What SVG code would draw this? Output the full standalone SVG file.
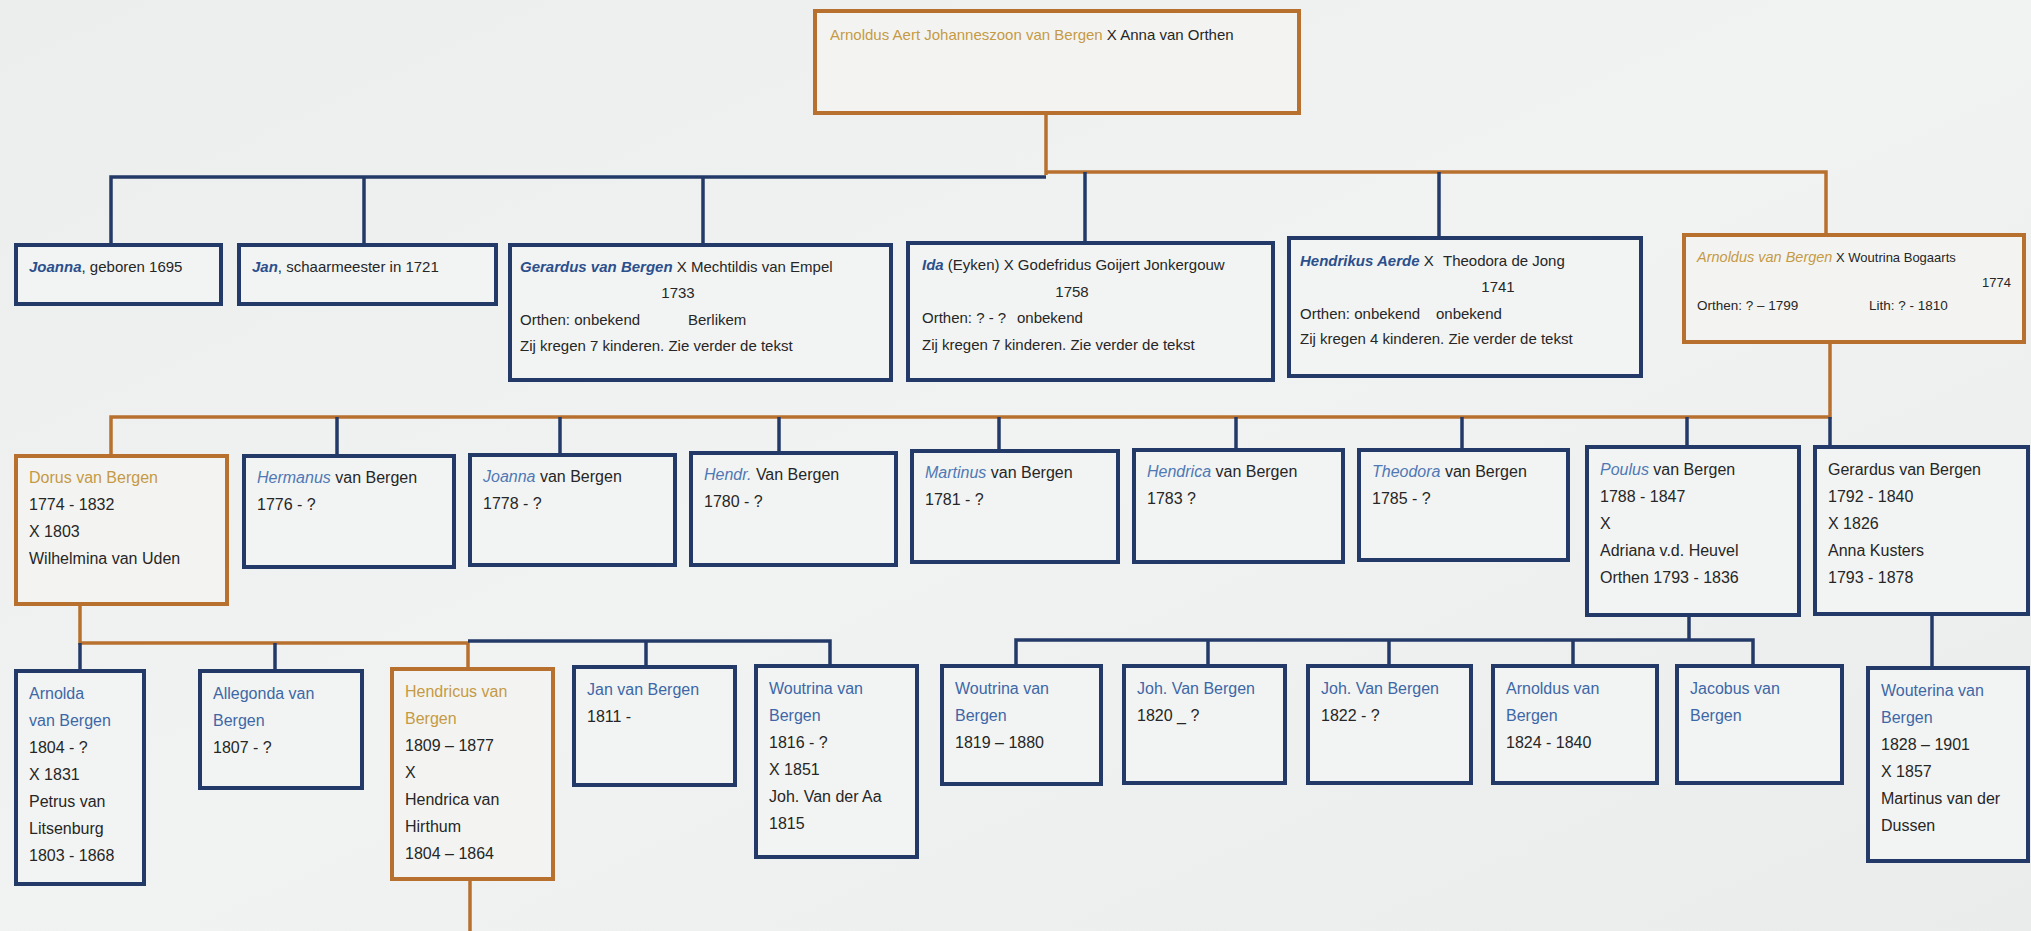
<svg xmlns="http://www.w3.org/2000/svg" width="2031" height="931" viewBox="0 0 2031 931">
<defs>
<linearGradient id="bg" x1="0" y1="0" x2="1" y2="1">
<stop offset="0" stop-color="#eceeed"/>
<stop offset="0.5" stop-color="#f1f3f2"/>
<stop offset="1" stop-color="#eaecec"/>
</linearGradient>
</defs>
<style>
.box{fill:#f2f4f3;stroke:#233a68;stroke-width:4}
.obox{fill:#f3f4f2;stroke:#b8702f;stroke-width:4}
.ln{fill:none;stroke:#233a68;stroke-width:3.5}
.oln{fill:none;stroke:#b8702f;stroke-width:3.5}
text{font-family:"Liberation Sans",Arial,sans-serif;font-size:16px;fill:#262626}
.s1{font-size:15px}
.bi{fill:#2c4f8c;font-style:italic;font-weight:bold}
.li{fill:#4f78b4;font-style:italic}
.bl{fill:#3d67a6}
.or{fill:#c59a45}
.oi{fill:#c59a45;font-style:italic}
.mid{text-anchor:middle}
.end{text-anchor:end}
</style>
<rect x="0" y="0" width="2031" height="931" fill="url(#bg)"/>

<g id="connectors">
<path class="oln" d="M1046 113 V175"/>
<path class="ln" d="M111 245 V177 H1046"/>
<path class="ln" d="M364 177 V245"/>
<path class="ln" d="M703 177 V245"/>
<path class="oln" d="M1046 172 H1826 V235"/>
<path class="ln" d="M1085 172 V243"/>
<path class="ln" d="M1439 172 V238"/>
<path class="oln" d="M1830 342 V417 H111 V456"/>
<path class="ln" d="M1830 417 V447"/>
<path class="ln" d="M337 417 V456"/>
<path class="ln" d="M560 417 V455"/>
<path class="ln" d="M779 417 V453"/>
<path class="ln" d="M999 417 V451"/>
<path class="ln" d="M1236 417 V450"/>
<path class="ln" d="M1462 417 V450"/>
<path class="ln" d="M1687 417 V447"/>
<path class="oln" d="M80 604 V643 H468 V669"/>
<path class="ln" d="M80 643 V671"/>
<path class="ln" d="M275 643 V671"/>
<path class="ln" d="M468 641 H830 V666"/>
<path class="ln" d="M646 641 V667"/>
<path class="oln" d="M470 879 V931"/>
<path class="ln" d="M1689 615 V640"/>
<path class="ln" d="M1016 666 V640 H1753 V666"/>
<path class="ln" d="M1208 640 V666"/>
<path class="ln" d="M1389 640 V666"/>
<path class="ln" d="M1573 640 V666"/>
<path class="ln" d="M1932 614 V668"/>
</g>

<g id="n-root">
<rect class="obox" x="815" y="11" width="484" height="102"/>
<text class="s1" x="830" y="40"><tspan class="or">Arnoldus Aert Johanneszoon van Bergen</tspan> X Anna van Orthen</text>
</g>

<g id="n-joanna1695">
<rect class="box" x="16" y="245" width="205" height="59"/>
<text class="s1" x="29" y="272"><tspan class="bi">Joanna</tspan>, geboren 1695</text>
</g>
<g id="n-jan1721">
<rect class="box" x="239" y="245" width="257" height="59"/>
<text class="s1" x="252" y="272"><tspan class="bi">Jan</tspan>, schaarmeester in 1721</text>
</g>
<g id="n-gerardus1733">
<rect class="box" x="510" y="245" width="381" height="135"/>
<text class="s1" x="520" y="272"><tspan class="bi">Gerardus van Bergen</tspan> X Mechtildis van Empel</text>
<text class="s1 mid" x="678" y="298">1733</text>
<text class="s1" x="520" y="325">Orthen: onbekend<tspan x="688">Berlikem</tspan></text>
<text class="s1" x="520" y="351">Zij kregen 7 kinderen. Zie verder de tekst</text>
</g>
<g id="n-ida1758">
<rect class="box" x="908" y="243" width="365" height="137"/>
<text class="s1" x="922" y="270"><tspan class="bi">Ida</tspan> (Eyken) X Godefridus Goijert Jonkergouw</text>
<text class="s1 mid" x="1072" y="297">1758</text>
<text class="s1" x="922" y="323">Orthen: ? - ?<tspan x="1017">onbekend</tspan></text>
<text class="s1" x="922" y="350">Zij kregen 7 kinderen. Zie verder de tekst</text>
</g>
<g id="n-hendrikus1741">
<rect class="box" x="1289" y="238" width="352" height="138"/>
<text class="s1" x="1300" y="266"><tspan class="bi">Hendrikus Aerde</tspan> X<tspan x="1443">Theodora de Jong</tspan></text>
<text class="s1 mid" x="1498" y="292">1741</text>
<text class="s1" x="1300" y="319">Orthen: onbekend<tspan x="1436">onbekend</tspan></text>
<text class="s1" x="1300" y="344">Zij kregen 4 kinderen. Zie verder de tekst</text>
</g>
<g id="n-arnoldus1774">
<rect class="obox" x="1684" y="235" width="340" height="107"/>
<text x="1697" y="262" style="font-size:14.5px"><tspan class="oi">Arnoldus van Bergen</tspan><tspan style="font-size:13px"> X Woutrina Bogaarts</tspan></text>
<text class="end" x="2011" y="287" style="font-size:13px">1774</text>
<text x="1697" y="310" style="font-size:13.5px">Orthen: ? – 1799<tspan x="1869">Lith: ? - 1810</tspan></text>
</g>

<g id="n-dorus">
<rect class="obox" x="16" y="456" width="211" height="148"/>
<text x="29" y="483"><tspan class="or">Dorus van Bergen</tspan><tspan x="29" dy="27">1774 - 1832</tspan><tspan x="29" dy="27">X 1803</tspan><tspan x="29" dy="27">Wilhelmina van Uden</tspan></text>
</g>
<g id="n-hermanus">
<rect class="box" x="244" y="456" width="210" height="111"/>
<text x="257" y="483"><tspan class="li">Hermanus</tspan> van Bergen<tspan x="257" dy="27">1776 - ?</tspan></text>
</g>
<g id="n-joanna1778">
<rect class="box" x="470" y="455" width="205" height="110"/>
<text x="483" y="482"><tspan class="li">Joanna</tspan> van Bergen<tspan x="483" dy="27">1778 - ?</tspan></text>
</g>
<g id="n-hendr1780">
<rect class="box" x="691" y="453" width="205" height="112"/>
<text x="704" y="480"><tspan class="li">Hendr.</tspan> Van Bergen<tspan x="704" dy="27">1780 - ?</tspan></text>
</g>
<g id="n-martinus1781">
<rect class="box" x="912" y="451" width="206" height="111"/>
<text x="925" y="478"><tspan class="li">Martinus</tspan> van Bergen<tspan x="925" dy="27">1781 - ?</tspan></text>
</g>
<g id="n-hendrica1783">
<rect class="box" x="1134" y="450" width="209" height="112"/>
<text x="1147" y="477"><tspan class="li">Hendrica</tspan> van Bergen<tspan x="1147" dy="27">1783 ?</tspan></text>
</g>
<g id="n-theodora1785">
<rect class="box" x="1359" y="450" width="209" height="110"/>
<text x="1372" y="477"><tspan class="li">Theodora</tspan> van Bergen<tspan x="1372" dy="27">1785 - ?</tspan></text>
</g>
<g id="n-poulus">
<rect class="box" x="1587" y="447" width="212" height="168"/>
<text x="1600" y="475"><tspan class="li">Poulus</tspan> van Bergen<tspan x="1600" dy="27">1788 - 1847</tspan><tspan x="1600" dy="27">X</tspan><tspan x="1600" dy="27">Adriana v.d. Heuvel</tspan><tspan x="1600" dy="27">Orthen 1793 - 1836</tspan></text>
</g>
<g id="n-gerardus1792">
<rect class="box" x="1815" y="447" width="213" height="167"/>
<text x="1828" y="475">Gerardus van Bergen<tspan x="1828" dy="27">1792 - 1840</tspan><tspan x="1828" dy="27">X 1826</tspan><tspan x="1828" dy="27">Anna Kusters</tspan><tspan x="1828" dy="27">1793 - 1878</tspan></text>
</g>

<g id="n-arnolda">
<rect class="box" x="16" y="671" width="128" height="213"/>
<text x="29" y="699"><tspan class="bl">Arnolda</tspan><tspan class="bl" x="29" dy="27">van Bergen</tspan><tspan x="29" dy="27">1804 - ?</tspan><tspan x="29" dy="27">X 1831</tspan><tspan x="29" dy="27">Petrus van</tspan><tspan x="29" dy="27">Litsenburg</tspan><tspan x="29" dy="27">1803 - 1868</tspan></text>
</g>
<g id="n-allegonda">
<rect class="box" x="200" y="671" width="162" height="117"/>
<text x="213" y="699"><tspan class="bl">Allegonda van</tspan><tspan class="bl" x="213" dy="27">Bergen</tspan><tspan x="213" dy="27">1807 - ?</tspan></text>
</g>
<g id="n-hendricus">
<rect class="obox" x="392" y="669" width="161" height="210"/>
<text x="405" y="697"><tspan class="or">Hendricus van</tspan><tspan class="or" x="405" dy="27">Bergen</tspan><tspan x="405" dy="27">1809 – 1877</tspan><tspan x="405" dy="27">X</tspan><tspan x="405" dy="27">Hendrica van</tspan><tspan x="405" dy="27">Hirthum</tspan><tspan x="405" dy="27">1804 – 1864</tspan></text>
</g>
<g id="n-jan1811">
<rect class="box" x="574" y="667" width="161" height="118"/>
<text x="587" y="695"><tspan class="bl">Jan van Bergen</tspan><tspan x="587" dy="27">1811 -</tspan></text>
</g>
<g id="n-woutrina1816">
<rect class="box" x="756" y="666" width="161" height="191"/>
<text x="769" y="694"><tspan class="bl">Woutrina van</tspan><tspan class="bl" x="769" dy="27">Bergen</tspan><tspan x="769" dy="27">1816 - ?</tspan><tspan x="769" dy="27">X 1851</tspan><tspan x="769" dy="27">Joh. Van der Aa</tspan><tspan x="769" dy="27">1815</tspan></text>
</g>
<g id="n-woutrina1819">
<rect class="box" x="942" y="666" width="159" height="118"/>
<text x="955" y="694"><tspan class="bl">Woutrina van</tspan><tspan class="bl" x="955" dy="27">Bergen</tspan><tspan x="955" dy="27">1819 – 1880</tspan></text>
</g>
<g id="n-joh1820">
<rect class="box" x="1124" y="666" width="161" height="117"/>
<text x="1137" y="694"><tspan class="bl">Joh. Van Bergen</tspan><tspan x="1137" dy="27">1820 _ ?</tspan></text>
</g>
<g id="n-joh1822">
<rect class="box" x="1308" y="666" width="163" height="117"/>
<text x="1321" y="694"><tspan class="bl">Joh. Van Bergen</tspan><tspan x="1321" dy="27">1822 - ?</tspan></text>
</g>
<g id="n-arnoldus1824">
<rect class="box" x="1493" y="666" width="164" height="117"/>
<text x="1506" y="694"><tspan class="bl">Arnoldus van</tspan><tspan class="bl" x="1506" dy="27">Bergen</tspan><tspan x="1506" dy="27">1824 - 1840</tspan></text>
</g>
<g id="n-jacobus">
<rect class="box" x="1677" y="666" width="165" height="117"/>
<text x="1690" y="694"><tspan class="bl">Jacobus van</tspan><tspan class="bl" x="1690" dy="27">Bergen</tspan></text>
</g>
<g id="n-wouterina">
<rect class="box" x="1868" y="668" width="160" height="193"/>
<text x="1881" y="696"><tspan class="bl">Wouterina van</tspan><tspan class="bl" x="1881" dy="27">Bergen</tspan><tspan x="1881" dy="27">1828 – 1901</tspan><tspan x="1881" dy="27">X 1857</tspan><tspan x="1881" dy="27">Martinus van der</tspan><tspan x="1881" dy="27">Dussen</tspan></text>
</g>
</svg>
